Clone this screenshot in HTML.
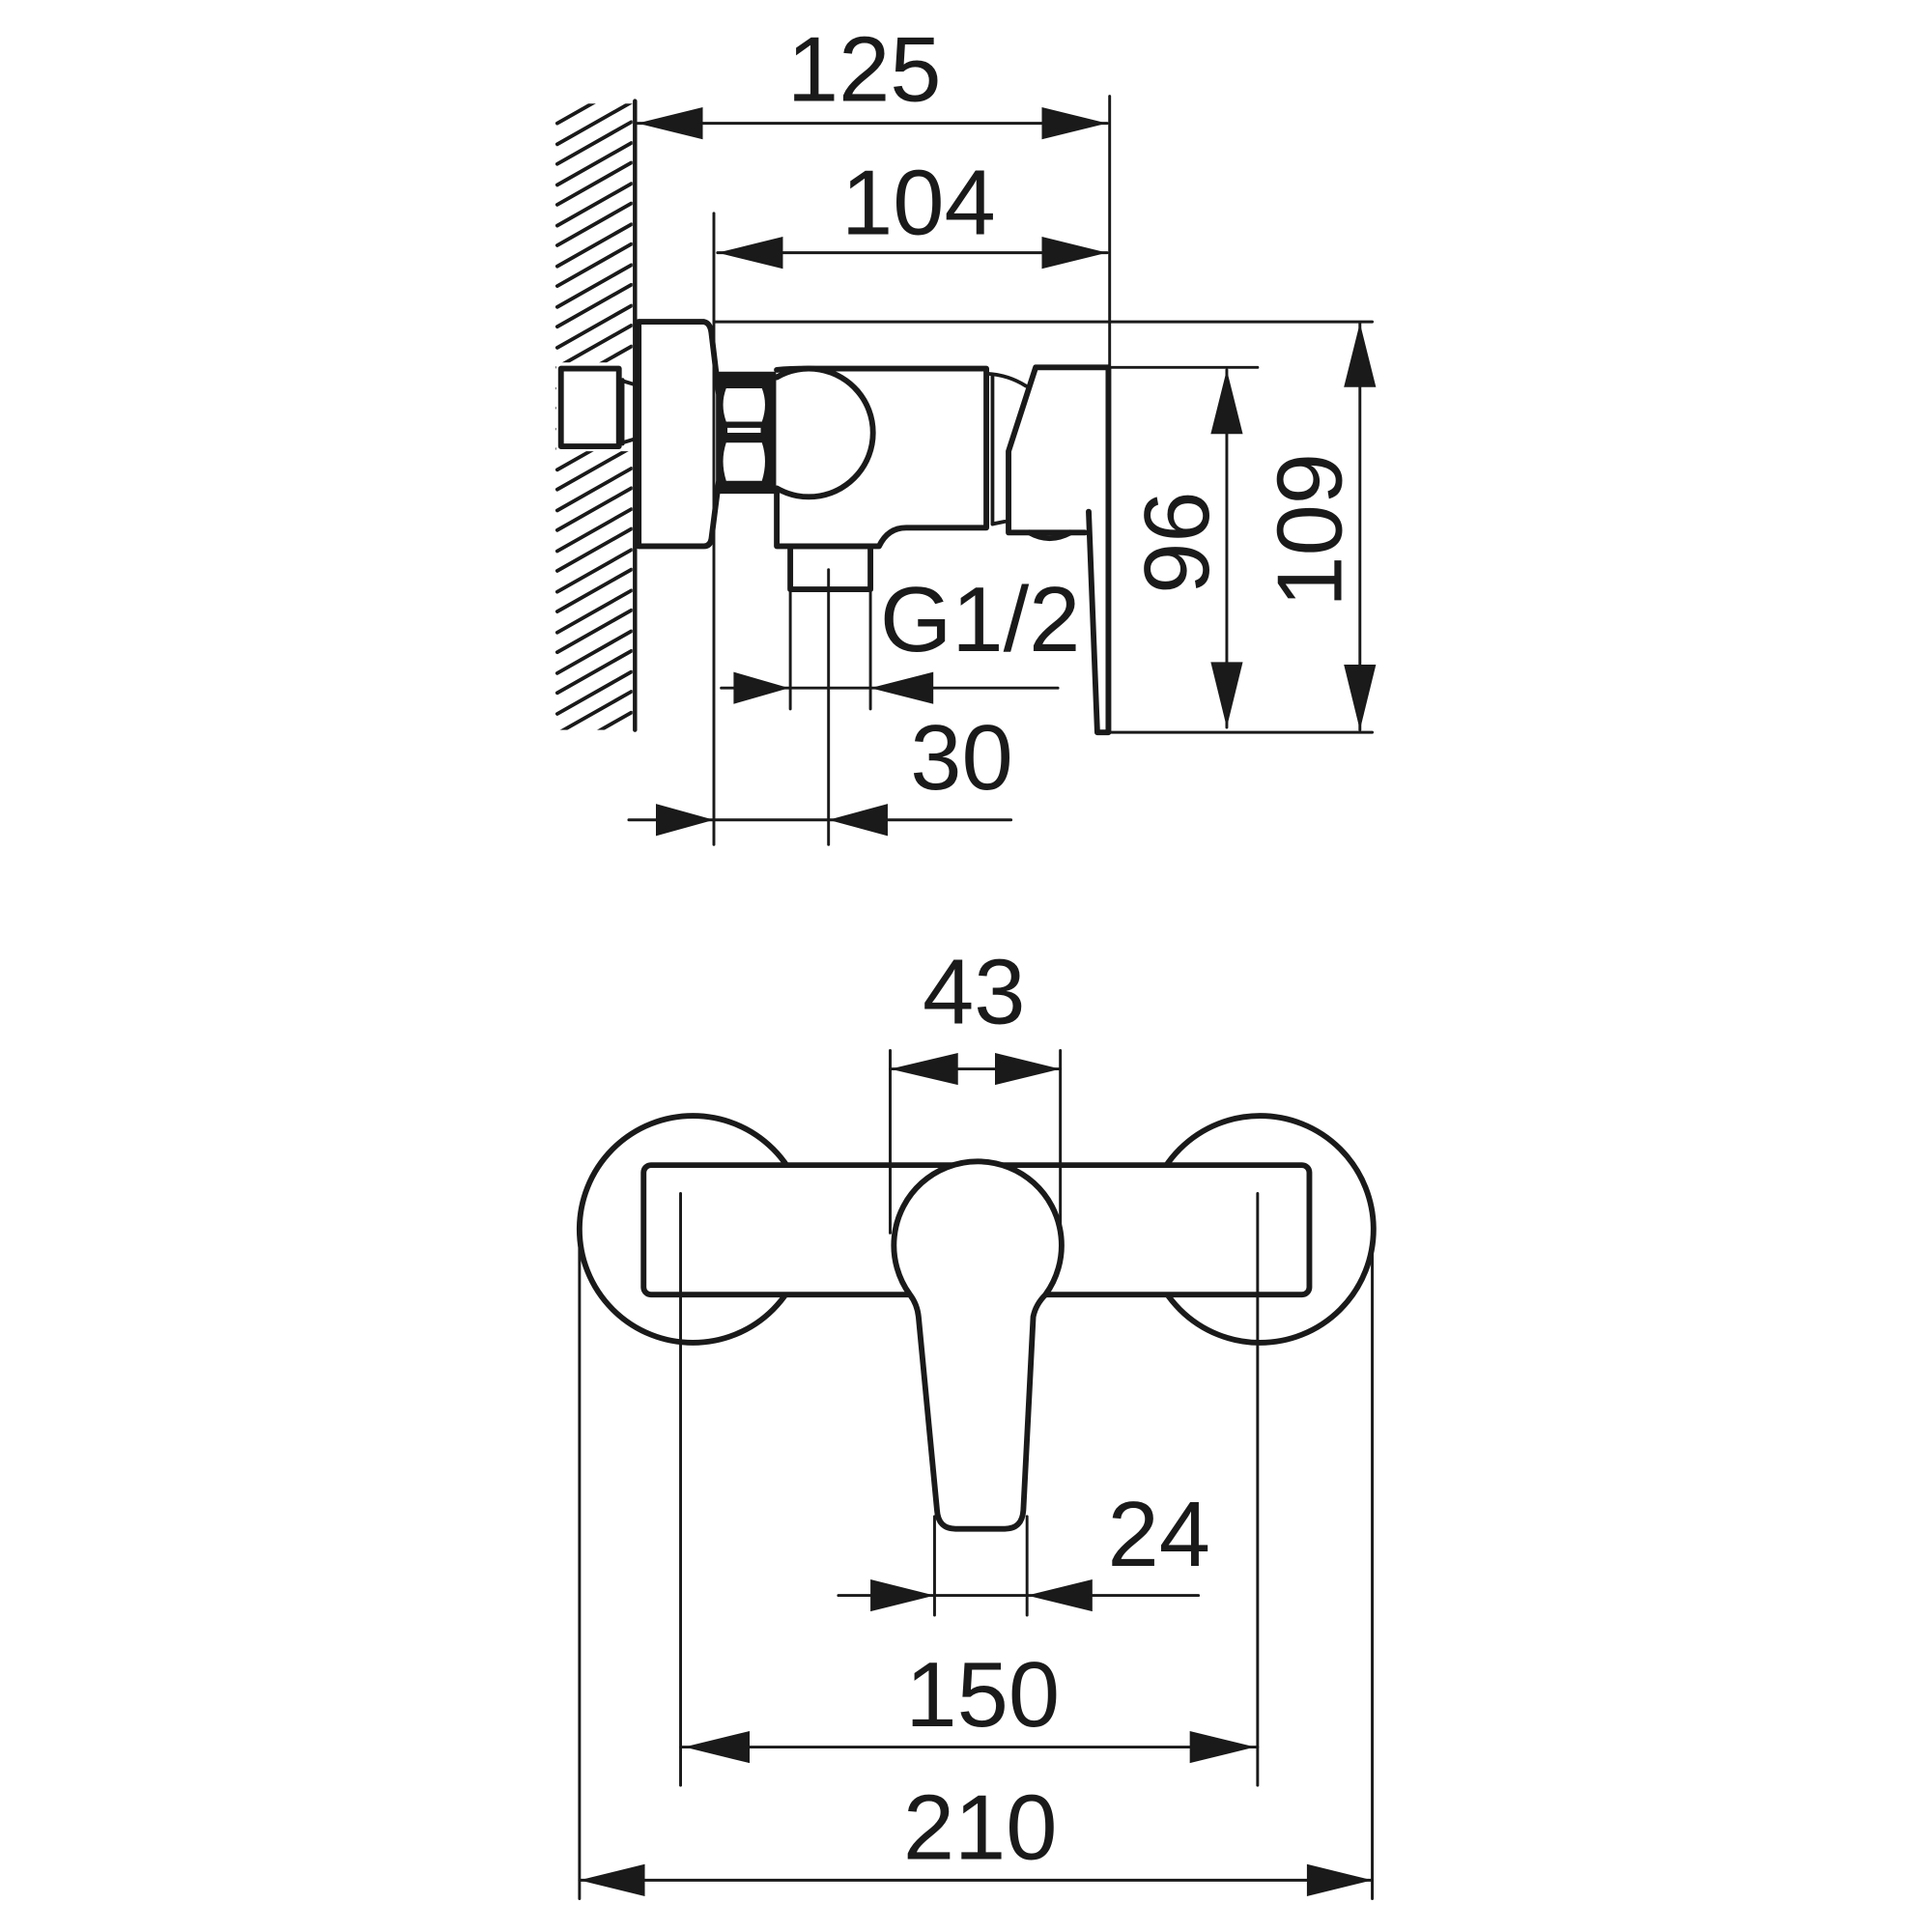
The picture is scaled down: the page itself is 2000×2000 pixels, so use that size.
<!DOCTYPE html>
<html><head><meta charset="utf-8"><style>
html,body{margin:0;padding:0;background:#fff;}
svg{display:block;}
text{font-family:"Liberation Sans",sans-serif;font-size:75px;fill:#1a1a1a;}
</style></head><body>
<svg width="2000" height="2000" viewBox="0 0 1567 1567" xmlns="http://www.w3.org/2000/svg">
<defs>
<clipPath id="hc"><rect x="450" y="84" width="63" height="508"/></clipPath>
</defs>
<g stroke="#1a1a1a" fill="none" stroke-linecap="round" stroke-linejoin="round">
<g clip-path="url(#hc)" stroke-width="3">
<line x1="452" y1="100" x2="512" y2="66"/><line x1="452" y1="117" x2="512" y2="83"/><line x1="452" y1="133" x2="512" y2="99"/><line x1="452" y1="150" x2="512" y2="116"/><line x1="452" y1="166" x2="512" y2="132"/><line x1="452" y1="183" x2="512" y2="149"/><line x1="452" y1="199" x2="512" y2="165"/><line x1="452" y1="216" x2="512" y2="182"/><line x1="452" y1="232" x2="512" y2="198"/><line x1="452" y1="249" x2="512" y2="215"/><line x1="452" y1="265" x2="512" y2="231"/><line x1="452" y1="282" x2="512" y2="248"/><line x1="452" y1="298" x2="512" y2="264"/><line x1="452" y1="315" x2="512" y2="281"/><line x1="452" y1="331" x2="512" y2="297"/><line x1="452" y1="348" x2="512" y2="314"/><line x1="452" y1="364" x2="512" y2="330"/><line x1="452" y1="381" x2="512" y2="347"/><line x1="452" y1="397" x2="512" y2="363"/><line x1="452" y1="414" x2="512" y2="380"/><line x1="452" y1="430" x2="512" y2="396"/><line x1="452" y1="447" x2="512" y2="413"/><line x1="452" y1="463" x2="512" y2="429"/><line x1="452" y1="480" x2="512" y2="446"/><line x1="452" y1="496" x2="512" y2="462"/><line x1="452" y1="513" x2="512" y2="479"/><line x1="452" y1="529" x2="512" y2="495"/><line x1="452" y1="546" x2="512" y2="512"/><line x1="452" y1="562" x2="512" y2="528"/><line x1="452" y1="579" x2="512" y2="545"/><line x1="452" y1="595" x2="512" y2="561"/><line x1="452" y1="612" x2="512" y2="578"/><line x1="452" y1="628" x2="512" y2="594"/>
</g>
<rect x="451" y="294" width="63" height="72" fill="#fff" stroke="none"/>
<line x1="515" y1="82" x2="515" y2="592" stroke-width="3.5"/>
<rect x="455" y="299" width="47" height="63" stroke-width="4.6"/>
<line x1="505" y1="308" x2="505" y2="360" stroke-width="3"/>
<line x1="502" y1="308" x2="515" y2="312" stroke-width="3"/>
<line x1="502" y1="360" x2="515" y2="356" stroke-width="3"/>
<path d="M518,261 H571 Q576,262 577,270 L583,320 V390 L577,437 Q576,443 571,443 H518 Z" stroke-width="4.6" fill="#fff"/>
<rect x="583" y="303" width="45" height="96" fill="#1a1a1a" stroke-width="3"/>
<path d="M589,315 H618 Q623,328 618,342 H589 Q584,328 589,315 Z" fill="#fff" stroke="none"/>
<path d="M589,359 H618 Q623,374 618,390 H589 Q584,374 589,359 Z" fill="#fff" stroke="none"/>
<rect x="590" y="347" width="27" height="4" fill="#fff" stroke="none"/>
<path d="M630,306 A52,52 0 1 1 630,396" stroke-width="4.6"/>
<path d="M630,300 Q640,299 655,299 H800 V428 H735 Q720,428 713,443 H630 V399" stroke-width="4.6"/>
<line x1="805" y1="304" x2="805" y2="425" stroke-width="3"/>
<path d="M800,303 Q818,304 832,313" stroke-width="3"/>
<path d="M805,425 L815,423" stroke-width="3"/>
<path d="M899,298 H840 L818,366 V432 H880" stroke-width="4.6"/>
<path d="M835,432 Q851,441 868,432" stroke-width="4.6"/>
<path d="M883,415 L890,594 H899 V298" stroke-width="4.6"/>
<rect x="641" y="443" width="65" height="35" stroke-width="4.6"/>
<g stroke-width="2.3">
<line x1="900" y1="78" x2="900" y2="594"/>
<line x1="579" y1="173" x2="579" y2="685"/>
<line x1="579" y1="261" x2="1113" y2="261"/>
<line x1="899" y1="298" x2="1020" y2="298"/>
<line x1="899" y1="594" x2="1113" y2="594"/>
<line x1="517" y1="100" x2="898" y2="100"/>
<line x1="582" y1="205" x2="898" y2="205"/>
<line x1="995" y1="300" x2="995" y2="590"/>
<line x1="1103" y1="262" x2="1103" y2="592"/>
<line x1="585" y1="558" x2="858" y2="558"/>
<line x1="641" y1="478" x2="641" y2="575"/>
<line x1="706" y1="478" x2="706" y2="575"/>
<line x1="672" y1="462" x2="672" y2="685"/>
<line x1="510" y1="665" x2="820" y2="665"/>
</g>
</g>
<g fill="#1a1a1a">
<polygon points="517,100 570,87 570,113"/><polygon points="898,100 845,87 845,113"/>
<polygon points="582,205 635,192 635,218"/><polygon points="898,205 845,192 845,218"/>
<polygon points="995,300 982,352 1008,352"/><polygon points="995,590 982,537 1008,537"/>
<polygon points="1103,262 1090,314 1116,314"/><polygon points="1103,592 1090,539 1116,539"/>
<polygon points="640,558 595,545 595,571"/><polygon points="706,558 757,545 757,571"/>
<polygon points="579,665 532,652 532,678"/><polygon points="672,665 720,652 720,678"/>
</g>
<text x="701" y="82" text-anchor="middle">125</text>
<text x="745" y="190" text-anchor="middle">104</text>
<text x="795" y="528" text-anchor="middle">G1/2</text>
<text x="780" y="640" text-anchor="middle">30</text>
<text transform="translate(980,440) rotate(-90)" text-anchor="middle">96</text>
<text transform="translate(1088,430) rotate(-90)" text-anchor="middle">109</text>

<g stroke="#1a1a1a" fill="none" stroke-linecap="round" stroke-linejoin="round">
<circle cx="562" cy="997" r="92" stroke-width="4.6" fill="#fff"/>
<circle cx="1022" cy="997" r="92" stroke-width="4.6" fill="#fff"/>
<rect x="522" y="945" width="540" height="105" rx="6" stroke-width="4.6" fill="#fff"/>
<path d="M738,1050 A68,68 0 1 1 848,1050 Q840,1058 838,1068 L830,1225 Q829,1240 815,1240 H775 Q761,1240 760,1225 L745,1068 Q744,1058 738,1050 Z" stroke-width="4.6" fill="#fff"/>
<g stroke-width="2.3">
<line x1="552" y1="968" x2="552" y2="1448"/>
<line x1="1020" y1="968" x2="1020" y2="1448"/>
<line x1="470" y1="1000" x2="470" y2="1540"/>
<line x1="1113" y1="1000" x2="1113" y2="1540"/>
<line x1="470" y1="1525" x2="1113" y2="1525"/>
<line x1="552" y1="1417" x2="1020" y2="1417"/>
<line x1="722" y1="852" x2="722" y2="1000"/>
<line x1="860" y1="852" x2="860" y2="1000"/>
<line x1="722" y1="867" x2="860" y2="867"/>
<line x1="680" y1="1294" x2="972" y2="1294"/>
<line x1="758" y1="1230" x2="758" y2="1310"/>
<line x1="833" y1="1230" x2="833" y2="1310"/>
</g>
</g>
<g fill="#1a1a1a">
<polygon points="470,1525 523,1512 523,1538"/><polygon points="1113,1525 1060,1512 1060,1538"/>
<polygon points="555,1417 608,1404 608,1430"/><polygon points="1018,1417 965,1404 965,1430"/>
<polygon points="722,867 777,854 777,880"/><polygon points="860,867 807,854 807,880"/>
<polygon points="758,1294 706,1281 706,1307"/><polygon points="833,1294 886,1281 886,1307"/>
</g>
<text x="790" y="830" text-anchor="middle">43</text>
<text x="940" y="1270" text-anchor="middle">24</text>
<text x="797" y="1400" text-anchor="middle">150</text>
<text x="795" y="1508" text-anchor="middle">210</text>
</svg>
</body></html>
